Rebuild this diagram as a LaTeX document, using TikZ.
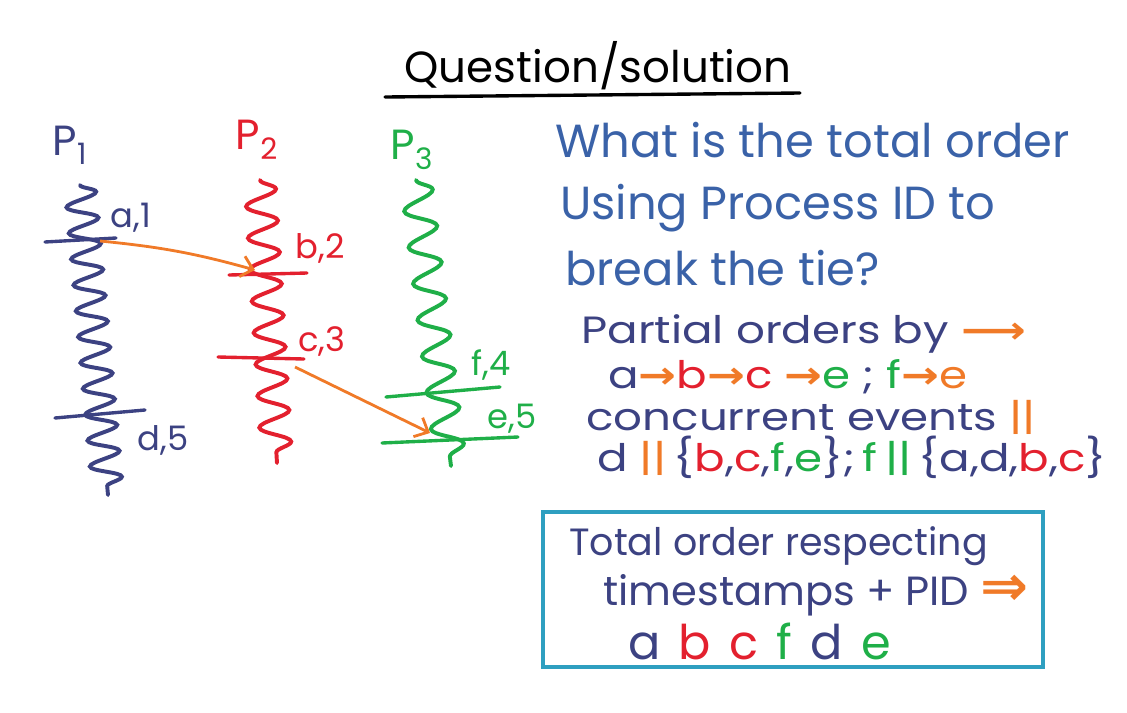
\documentclass[tikz,border=0pt]{standalone}
\usepackage{fontspec}
\setmainfont{Poppins}
\newfontfamily\arrowfont{DejaVu Sans Bold}
\usepackage{xcolor}
\usetikzlibrary{positioning, decorations.pathmorphing, arrows.meta}
\definecolor{inknavy}{HTML}{3C4282}
\definecolor{inkblue}{HTML}{3A62A8}
\definecolor{inkred}{HTML}{E3202E}
\definecolor{inkgreen}{HTML}{1FAF48}
\definecolor{inkorange}{HTML}{F07A28}
\definecolor{inkteal}{HTML}{2E9FC0}
\tikzset{proc/.style={draw=#1, line width=2.8pt, line cap=round, decorate,
    decoration={snake, amplitude=11pt}},
  tick/.style={draw=#1, line width=2.4pt, line cap=round},
  msg/.style={draw=inkorange, line width=2pt, -{Straight Barb[length=8pt, width=15pt]}},
  lbl/.style={text=#1, inner sep=0pt, font=\fontsize{24}{26}\selectfont},
  say/.style={text=#1, inner sep=0pt, anchor=west, font=\fontsize{33}{36}\selectfont},
  note/.style={text=inknavy, inner sep=0pt, anchor=west, xscale=1.19, font=\fontsize{27}{30}\selectfont}
}
\newcommand{\ar}{\textcolor{inkorange}{\arrowfont →}}
\newcommand{\cc}[2]{\textcolor{#1}{#2}}
\newcommand{\gap}{\hspace{13pt}}

\begin{document}
\begin{tikzpicture}[x=0.025cm, y=-0.025cm]
\useasboundingbox (0,0) rectangle (1127,712);
\node[inner sep=0pt, font=\fontsize{31}{34}\selectfont] (title) at (598,66) {Question/solution};
\draw[tick=black] (385,97) -- (800,93);

% the three processes
\node[lbl=inknavy, font=\fontsize{30}{32}\selectfont] (P1) at (70,145) {P\textsubscript{1}};
\node[lbl=inkred, font=\fontsize{30}{32}\selectfont] (P2) at (257,140) {P\textsubscript{2}};
\node[lbl=inkgreen, font=\fontsize{30}{32}\selectfont] (P3) at (412,150) {P\textsubscript{3}};
\draw[proc=inknavy, decoration={segment length=18.5pt}] (80,185) -- (108,495);
\draw[proc=inkred, decoration={segment length=22.5pt}] (260,180) -- (277,463);
\draw[proc=inkgreen, decoration={segment length=26pt}] (416,180) -- (451,466);

% events
\coordinate (a) at (100,241);
\coordinate (b) at (255,270);
\coordinate (c) at (295,367);
\coordinate (e) at (430,433);
\draw[tick=inknavy] (45,242) -- (116,238);
\draw[tick=inknavy] (55,418) -- (145,410);
\draw[tick=inkred] (229,275) -- (307,273);
\draw[tick=inkred] (218,357) -- (304,359);
\draw[tick=inkgreen] (386,397) -- (500,387);
\draw[tick=inkgreen] (382,443) -- (518,437);
\node[lbl=inknavy] (la) at (131,218) {a,1};
\node[lbl=inknavy] (ld) at (163,440) {d,5};
\node[lbl=inkred] (lb) at (320,248) {b,2};
\node[lbl=inkred] (lc) at (322,341) {c,3};
\node[lbl=inkgreen] (lf) at (491,365) {f,4};
\node[lbl=inkgreen] (le) at (512,419) {e,5};
\draw[msg] (a) to[bend left=5] (b);
\draw[msg] (c) -- (e);

% question
\node[say=inkblue] (q1) at (555,140) {What is the total order};
\node[say=inkblue] (q2) at (560,208) {Using Process ID to};
\node[say=inkblue] (q3) at (565,268) {break the tie?};

% answer
\node[note] (po) at (581,334) {Partial orders by \textcolor{inkorange}{\arrowfont ⟶}};
\node[note] (chain) at (608,377) {a\ar\cc{inkred}{b}\ar\cc{inkred}{c} \ar\cc{inkgreen}{e} ; \cc{inkgreen}{f}\ar\cc{inkorange}{e}};
\node[note] (conc) at (586,417) {concurrent events \cc{inkorange}{||}};
\node[note] (sets) at (597,457) {d \cc{inkorange}{||}\,\{\cc{inkred}{b},\cc{inkred}{c},\cc{inkgreen}{f},\cc{inkgreen}{e}\};\,\cc{inkgreen}{f\,||}\,\{a,d,\cc{inkred}{b},\cc{inkred}{c}\}};

% total order box
\draw[draw=inkteal, line width=2.6pt] (543,512) rectangle (1043,667);
\node[note, xscale=1/1.19] (t1) at (569,546) {Total order respecting};
\node[note, xscale=1.02/1.19, font=\fontsize{29}{32}\selectfont] (t2) at (603,595) {timestamps + PID \textcolor{inkorange}{\fontsize{40}{40}\selectfont\arrowfont ⇒}};
\node[note, xscale=1/1.19, font=\fontsize{34}{36}\selectfont] (t3) at (628,641) {a\gap\cc{inkred}{b}\gap\cc{inkred}{c}\gap\cc{inkgreen}{f}\gap d\gap\cc{inkgreen}{e}};
\end{tikzpicture}
\end{document}
